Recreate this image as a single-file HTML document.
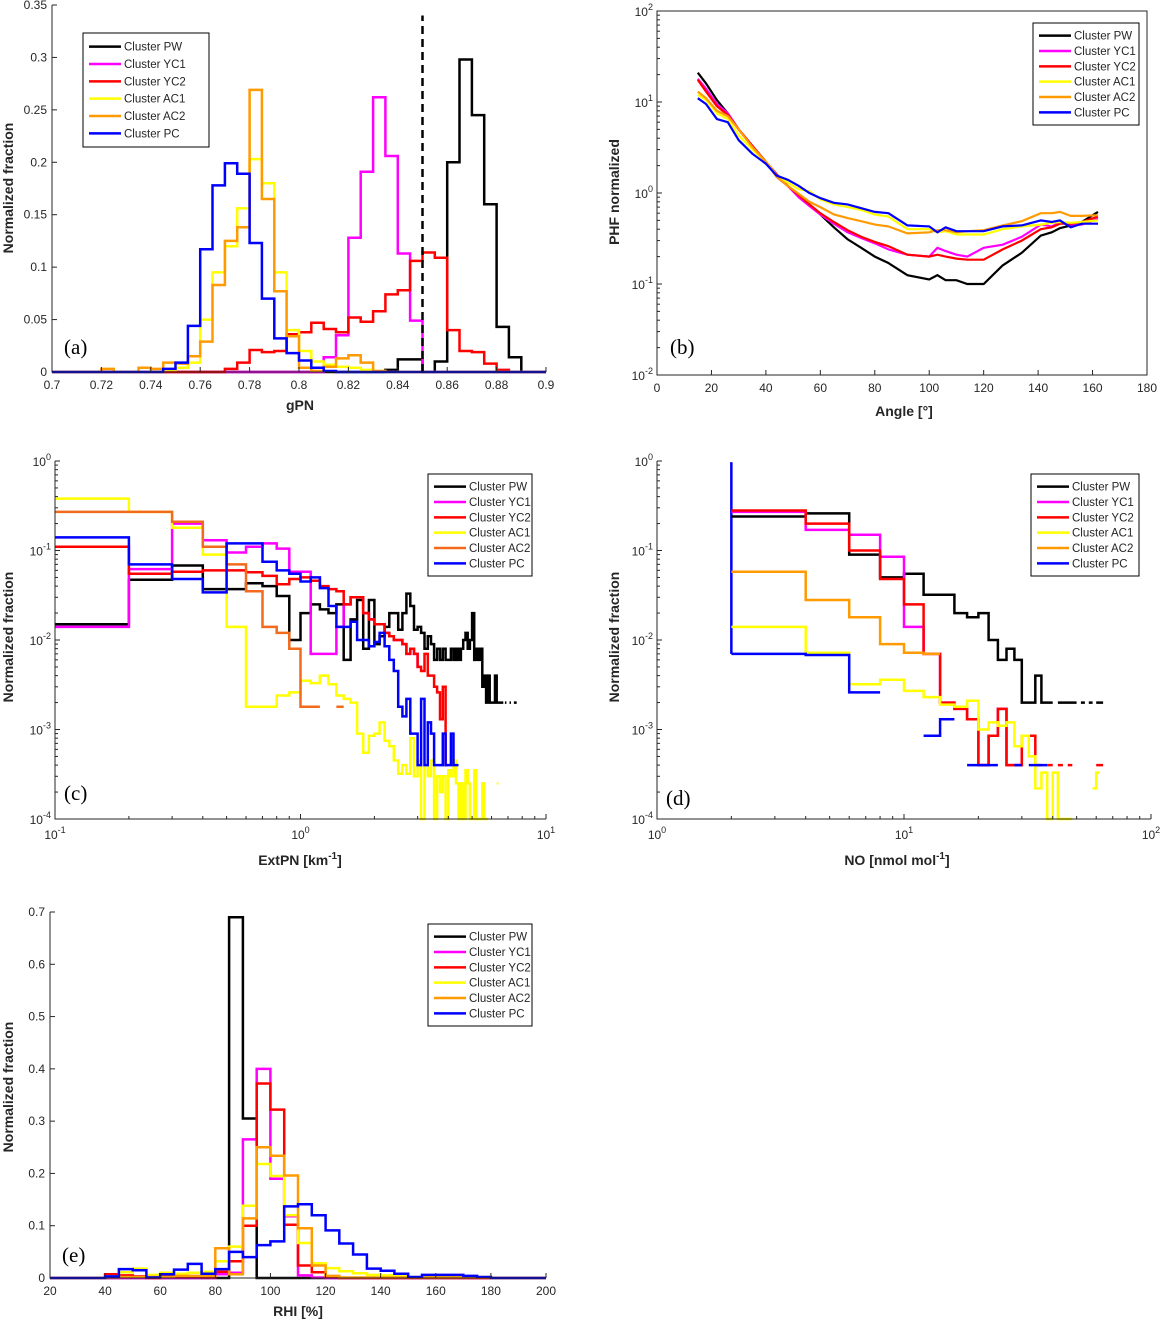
<!DOCTYPE html>
<html><head><meta charset="utf-8"><style>
html,body{margin:0;padding:0;background:#fff;}
svg{display:block;font-family:"Liberation Sans",Arial,sans-serif;}
</style></head><body>
<svg id="fig" xmlns="http://www.w3.org/2000/svg" width="1161" height="1323" viewBox="0 0 1161 1323"></svg>
<script>
// ---------- DATA ----------
const seriesNames = ['Cluster PW','Cluster YC1','Cluster YC2','Cluster AC1','Cluster AC2','Cluster PC'];
const colorsStd = ['#000000','#ff00ff','#ff0000','#ffff00','#ff9a00','#0000ff'];
const colorsC = ['#000000','#ff00ff','#ff0000','#ffff00','#f26a1b','#0000ff'];

// (a) gPN, bins of 0.005 from 0.70 to 0.90
const aPW  = [0,0,0,0,0,0,0,0,0,0,0,0,0,0,0,0,0,0,0,0,0,0,0,0,0,0,0,0.002,0.012,0.012,0,0.01,0.2,0.298,0.245,0.16,0.043,0.014,0,0];
const aYC1 = [0,0,0,0,0,0,0,0,0,0,0,0,0,0,0,0,0,0,0,0,0,0,0.014,0.035,0.128,0.191,0.262,0.206,0.113,0.049,0,0,0,0,0,0,0,0,0,0];
const aYC2 = [0,0,0,0,0,0,0,0,0,0,0,0,0,0,0.003,0.009,0.021,0.019,0.02,0.036,0.038,0.047,0.041,0.038,0.052,0.048,0.058,0.074,0.078,0.106,0.114,0.109,0.04,0.02,0.019,0.008,0.002,0,0,0];
const aAC1 = [0,0,0,0,0,0,0,0,0,0.002,0.004,0.009,0.05,0.095,0.12,0.156,0.203,0.18,0.095,0.04,0.02,0.01,0.007,0.005,0.004,0.002,0.001,0,0,0,0,0,0,0,0,0,0,0,0,0];
const aAC2 = [0,0,0,0,0.003,0,0,0.004,0.003,0.009,0.008,0.015,0.029,0.083,0.125,0.138,0.269,0.165,0.077,0.034,0.004,0.001,0.005,0.013,0.016,0.009,0.001,0,0,0,0,0,0,0,0,0,0,0,0,0];
const aPC  = [0,0,0,0,0,0,0,0,0,0.003,0.009,0.044,0.117,0.178,0.199,0.189,0.123,0.07,0.032,0.018,0.011,0.004,0.001,0,0,0,0,0,0,0,0,0,0,0,0,0,0,0,0,0];
const aThreshold = 0.85;
const aXTicks = [0.7,0.72,0.74,0.76,0.78,0.8,0.82,0.84,0.86,0.88,0.9];
const aXTickLabels = ['0.7','0.72','0.74','0.76','0.78','0.8','0.82','0.84','0.86','0.88','0.9'];
const aYTicks = [0,0.05,0.1,0.15,0.2,0.25,0.3,0.35];
const aYTickLabels = ['0','0.05','0.1','0.15','0.2','0.25','0.3','0.35'];

// (b) phase function
const bAngles = [15,18,22,26,30,35,40,44,48,52,56,60,65,70,75,80,85,92,100,103,106,110,114,120,127,134,141,145,148,152,156,162];
const bPW  = [21,16,10.5,7.5,5,3.3,2.2,1.5,1.2,0.95,0.75,0.58,0.42,0.31,0.25,0.2,0.17,0.125,0.112,0.125,0.11,0.11,0.1,0.1,0.16,0.22,0.34,0.37,0.41,0.44,0.48,0.62];
const bYC1 = [18,14,9.5,7.5,5,3.3,2.2,1.5,1.2,0.9,0.72,0.58,0.46,0.37,0.32,0.28,0.24,0.21,0.2,0.25,0.23,0.21,0.2,0.25,0.27,0.33,0.45,0.43,0.47,0.45,0.45,0.52];
const bYC2 = [17.5,13,9,7.2,5,3.3,2.2,1.6,1.2,0.95,0.75,0.6,0.48,0.39,0.33,0.29,0.26,0.21,0.2,0.21,0.2,0.19,0.185,0.185,0.24,0.3,0.4,0.42,0.46,0.46,0.48,0.55];
const bAC1 = [12,10.5,7.5,6.5,4.3,3,2.2,1.55,1.3,1.1,1.05,0.85,0.75,0.7,0.65,0.58,0.55,0.4,0.4,0.37,0.38,0.35,0.35,0.35,0.4,0.43,0.45,0.47,0.48,0.47,0.48,0.5];
const bAC2 = [13,11,8,7,5,3.2,2.2,1.5,1.2,0.98,0.8,0.7,0.58,0.53,0.49,0.45,0.43,0.36,0.37,0.39,0.39,0.37,0.38,0.39,0.44,0.49,0.6,0.6,0.62,0.56,0.56,0.57];
const bPC  = [11,9.5,6.5,6,3.8,2.7,2.1,1.55,1.4,1.2,1.0,0.88,0.78,0.75,0.68,0.62,0.6,0.44,0.43,0.37,0.42,0.38,0.38,0.38,0.43,0.44,0.5,0.48,0.5,0.42,0.46,0.46];
const bXTicks = [0,20,40,60,80,100,120,140,160,180];
const bYExp = [-2,-1,0,1,2];

// (c) ExtPN, bins of 0.1 from 0.1 to 8.0
const cPW  = [0.015,0.047,0.068,0.037,0.037,0.043,0.04,0.031,0.01,
 0.02,0.025,0.022,0.02,0.025,0.006,0.017,0.028,0.008,0.028,
 0.009,0.011,0.014,0.02,0.02,0.013,0.02,0.033,0.024,0.013,
 0.014,0.012,0.008,0.011,0.009,0.006,0.008,0.006,0.008,0.006,
 0.006,0.008,0.006,0.008,0.006,0.008,0.01,0.012,0.008,0.01,
 0.02,0.006,0.008,0.006,0.008,0.003,0.004,0.002,0.004,0.002,
 0.002,0.002,0.004,0.002,0.002,0.002,0.002,null,0.002,null,
 null,0.002,null,null,0.002,0.002,null,null,null,null];
const cYC1 = [0.014,0.062,0.2,0.13,0.095,0.11,0.12,0.105,0.058,
 0.058,0.007,0.007,0.007,0.014,0.025,0.03,0.03,0.02,0.017,
 0.015,0.015,0.012,0.011,0.01,0.01,0.009,0.007,0.008,0.007,
 0.005,null,null,null,null,null,null,null,null,null,
 null,null,null,null,null,null,null,null,null,null,
 null,null,null,null,null,null,null,null,null,null,
 null,null,null,null,null,null,null,null,null,null,
 null,null,null,null,null,null,null,null,null,null];
const cYC2 = [0.11,0.055,0.058,0.06,0.06,0.057,0.052,0.042,0.048,
 0.05,0.046,0.04,0.037,0.035,0.025,0.03,0.03,0.02,0.017,
 0.015,0.015,0.012,0.011,0.01,0.01,0.009,0.007,0.008,0.007,
 0.005,0.0045,0.007,0.004,0.004,0.003,0.0026,0.0013,0.003,0.0004,
 null,null,null,null,null,null,null,null,null,null,
 null,null,null,null,null,null,null,null,null,null,
 null,null,null,null,null,null,null,null,null,null,
 null,null,null,null,null,null,null,null,null,null];
const cAC1 = [0.38,0.27,0.18,0.09,0.014,0.0018,0.0018,0.0024,0.0026,
 0.0035,0.0033,0.004,0.0032,0.0024,0.0022,0.002,0.0009,0.00055,0.00085,
 0.0009,0.0012,0.00075,0.00065,0.00045,0.00032,0.0004,0.00032,0.0008,0.0003,
 0.00045,0.0001,0.0004,0.0003,0.00045,0.0001,0.0003,0.0002,0.0003,0.0001,
 0.00035,0.0003,0.00045,0.00025,0.0001,0.00025,0.0001,0.00035,0.00025,0.0001,
 0.0001,0.00035,0.0001,0.0001,0.0001,0.00025,0.0001,0.0001,null,null,
 null,null,null,0.00025,null,null,null,null,null,null,
 null,null,null,null,null,null,null,null,null,null];
const cAC2 = [0.27,0.27,0.21,0.11,0.07,0.035,0.014,0.012,0.008,
 0.0018,0.0018,null,null,0.0018,null,null,null,null,null,
 null,null,null,null,null,null,null,null,null,null,
 null,null,null,null,null,null,null,null,null,null,
 null,null,null,null,null,null,null,null,null,null,
 null,null,null,null,null,null,null,null,null,null,
 null,null,null,null,null,null,null,null,null,null,
 null,null,null,null,null,null,null,null,null,null];
const cPC  = [0.14,0.07,0.048,0.034,0.12,0.12,0.075,0.06,0.055,
 0.045,0.05,0.038,0.024,0.014,0.014,0.016,0.01,0.01,0.0085,
 0.0095,0.012,0.0085,0.006,0.0045,0.0018,0.0014,0.0022,0.0009,0.0009,
 0.0004,0.0022,0.0004,0.0012,0.0009,0.0004,0.0004,0.0004,0.0009,0.0004,
 0.0004,0.0009,0.0004,0.0004,null,null,null,null,null,null,
 null,null,null,null,null,null,null,null,null,null,
 null,null,null,null,null,null,null,null,null,null,
 null,null,null,null,null,null,null,null,null,null];
const cXExp = [-1,0,1];
const cYExp = [-4,-3,-2,-1,0];

// (d) NO, bins of 2 from 2 to 64
const dPW  = [0.24,0.26,0.09,0.05,0.055,0.032,0.032,0.02,0.018,0.02,0.01,0.006,0.008,0.006,0.002,0.002,0.004,0.002,0.002,null,0.002,0.002,0.002,0.002,null,0.002,null,0.002,null,0.002,0.002];
const dYC1 = [0.27,0.17,0.15,0.085,0.014,0.007,0.002,0.0017,0.0013,0.0004,0.00085,0.0017,0.0004,0.0004,0.00085,0.00085,null,null,null,null,null,null,null,null,null,null,null,null,null,null,null];
const dYC2 = [0.28,0.2,0.1,0.048,0.025,0.007,0.002,0.0017,0.0013,0.0004,0.00085,0.0017,0.0004,0.0004,0.00085,0.00085,0.0004,null,0.0004,null,0.0004,null,0.0004,null,null,null,null,null,null,0.0004,0.0004];
const dAC1 = [0.014,0.0072,0.0032,0.0036,0.0027,0.0023,0.0019,0.0018,0.0021,0.001,0.0012,0.0011,0.0012,0.00065,0.00085,0.0005,0.00022,0.00033,0.0001,0.00033,0.0001,0.0001,0.0001,null,null,null,null,null,0.00022,0.00033,null];
const dAC2 = [0.058,0.028,0.018,0.009,0.0072,0.007,null,null,null,null,null,null,null,null,null,null,null,null,null,null,null,null,null,null,null,null,null,null,null,null,null];
const dPC  = [0.007,0.0068,0.0026,null,null,0.00085,0.0013,null,0.0004,0.0004,0.0004,null,null,0.0004,null,0.0004,0.0004,0.0004,null,null,null,null,null,null,null,null,null,null,null,null,null];
const dPCLead = 0.97;
const dXExp = [0,1,2];
const dYExp = [-4,-3,-2,-1,0];

// (e) RHI, bins of 5 from 20 to 200
const ePW  = [0,0,0,0,0,0,0,0,0,0,0,0,0,0.69,0.305,0,0,0,0,0,0,0,0,0,0,0,0,0,0,0,0,0,0,0,0,0];
const eYC1 = [0,0,0,0,0,0,0,0,0,0,0,0,0.007,0.01,0.265,0.4,0.19,0.118,0.005,0.001,0,0,0,0,0,0,0,0,0,0,0,0,0,0,0,0];
const eYC2 = [0,0,0,0,0.007,0.005,0.003,0,0.003,0.002,0.003,0.001,0.012,0.032,0.1,0.372,0.322,0.102,0.024,0.011,0.003,0,0,0,0,0,0,0,0,0,0,0,0,0,0,0];
const eAC1 = [0,0,0,0,0.003,0.011,0.018,0.006,0.01,0.008,0.01,0.012,0.032,0.06,0.138,0.218,0.195,0.12,0.067,0.028,0.019,0.013,0.009,0.006,0.005,0.003,0.002,0.002,0.002,0.002,0.002,0.002,0,0,0,0];
const eAC2 = [0,0,0,0,0.001,0.002,0.002,0.002,0.002,0.004,0.004,0.004,0.057,0.007,0.114,0.25,0.234,0.196,0.095,0.024,0.004,0.001,0.001,0.001,0.001,0.001,0.001,0.001,0.001,0.001,0.001,0.001,0,0,0,0];
const ePC  = [0,0,0,0,0.003,0.017,0.015,0.001,0.007,0.016,0.027,0.008,0.017,0.05,0.04,0.063,0.07,0.137,0.141,0.12,0.091,0.066,0.045,0.018,0.014,0.008,0.002,0.006,0.006,0.006,0.004,0.002,0,0,0,0];
const eXTicks = [20,40,60,80,100,120,140,160,180,200];
const eYTicks = [0,0.1,0.2,0.3,0.4,0.5,0.6,0.7];

// ---------- DRAWING ----------
const NS='http://www.w3.org/2000/svg';
const svg=document.getElementById('fig');
function mk(tag,attrs,parent){const e=document.createElementNS(NS,tag);for(const k in attrs)e.setAttribute(k,attrs[k]);(parent||svg).appendChild(e);return e;}
function linS(d0,d1,p0,p1){return v=>p0+(v-d0)/(d1-d0)*(p1-p0);}
function logS(d0,d1,p0,p1){return v=>p0+(Math.log10(v)-Math.log10(d0))/(Math.log10(d1)-Math.log10(d0))*(p1-p0);}
const TICKC='#262626';

function expLabel(g,x,y,exp,anchor){
  const t=mk('text',{x:x,y:y,'font-size':12,fill:TICKC,'text-anchor':anchor},g);
  
  
  const a=mk('tspan',{},t);a.textContent='10';
  const b=mk('tspan',{dy:-6,'font-size':9},t);b.textContent=String(exp);
  return t;
}
function axesFrame(g,P,box){
  const ax=mk('path',{d:`M${P.l},${P.t}L${P.l},${P.b}L${P.r},${P.b}`+(box?`L${P.r},${P.t}Z`:''),fill:'none',stroke:TICKC,'stroke-width':1},g);
  
  
}
function linXTicks(g,P,sx,ticks,labels){
  ticks.forEach((v,i)=>{const x=sx(v);
    mk('line',{x1:x,x2:x,y1:P.b,y2:P.b-5,stroke:TICKC},g);
    const t=mk('text',{x:x,y:P.b+17,'font-size':12,fill:TICKC,'text-anchor':'middle'},g);
    
    
    t.textContent=labels?labels[i]:String(v);});
}
function linYTicks(g,P,sy,ticks,labels){
  ticks.forEach((v,i)=>{const y=sy(v);
    mk('line',{x1:P.l,x2:P.l+5,y1:y,y2:y,stroke:TICKC},g);
    const t=mk('text',{x:P.l-5,y:y+4,'font-size':12,fill:TICKC,'text-anchor':'end'},g);
    
    
    t.textContent=labels?labels[i]:String(v);});
}
function logXTicks(g,P,sx,exps){
  for(let k=0;k<exps.length;k++){const e=exps[k];const x=sx(Math.pow(10,e));
    mk('line',{x1:x,x2:x,y1:P.b,y2:P.b-5,stroke:TICKC},g);
    expLabel(g,x,P.b+20,e,'middle');
    if(k<exps.length-1)for(let m=2;m<10;m++){const xm=sx(m*Math.pow(10,e));mk('line',{x1:xm,x2:xm,y1:P.b,y2:P.b-3,stroke:TICKC},g);}}
}
function logYTicks(g,P,sy,exps){
  for(let k=0;k<exps.length;k++){const e=exps[k];const y=sy(Math.pow(10,e));
    mk('line',{x1:P.l,x2:P.l+5,y1:y,y2:y,stroke:TICKC},g);
    expLabel(g,P.l-4,y+5,e,'end');
    if(k<exps.length-1)for(let m=2;m<10;m++){const ym=sy(m*Math.pow(10,e));mk('line',{x1:P.l,x2:P.l+3,y1:ym,y2:ym,stroke:TICKC},g);}}
}
function stairs(g,edges,vals,sx,sy,isLog,color,name){
  let d='',open=false;
  for(let i=0;i<vals.length;i++){const v=vals[i];
    if(v==null||(isLog&&v<=0)){open=false;continue;}
    const x0=sx(edges[i]),x1=sx(edges[i+1]),y=sy(v);
    d+=(open?'L':'M')+x0.toFixed(1)+','+y.toFixed(1)+'L'+x1.toFixed(1)+','+y.toFixed(1);open=true;}
  const p=mk('path',{d:d,fill:'none',stroke:color,'stroke-width':2.5,'stroke-linejoin':'miter'},g);
  
  
  return p;
}
function legend(g,x,y,w,h,colors){
  const r=mk('rect',{x:x,y:y,width:w,height:h,fill:'#fff',stroke:'#000','stroke-width':1},g);
  
  
  const step=(h-10)/6;
  seriesNames.forEach((n,i)=>{const yy=y+5+step*(i+0.5);
    const l=mk('line',{x1:x+6,x2:x+38,y1:yy,y2:yy,stroke:colors[i],'stroke-width':2.5},g);
    
    
    const t=mk('text',{x:x+41,y:yy+4,'font-size':11.5,fill:'#262626'},g);
    
    
    t.textContent=n;});
}
function titles(g,xt,xx,xy,yt,yx,yy,sup){
  const a=mk('text',{x:xx,y:xy,'font-size':14,'font-weight':'bold','text-anchor':'middle',fill:'#262626'},g);
  
  
  a.textContent=xt;
  if(sup){const s=mk('tspan',{dy:-6,'font-size':10},a);s.textContent=sup[0];const s2=mk('tspan',{dy:6},a);s2.textContent=sup[1];}
  const b=mk('text',{x:yx,y:yy,'font-size':14,'font-weight':'bold','text-anchor':'middle',fill:'#262626',transform:`rotate(-90 ${yx} ${yy})`},g);
  
  
  b.textContent=yt;
}
function panelLetter(g,x,y,s){
  const t=mk('text',{x:x,y:y,'font-size':21,'font-family':'"Liberation Serif",serif',fill:'#000'},g);
  
  
  t.textContent=s;
}
function group(name){const g=mk('g',{});return g;}

// ---- Panel (a)
(function(){
  const g=group('panel-a-gpn');
  const P={l:52,r:546,t:5,b:372};
  const sx=linS(0.7,0.9,P.l,P.r), sy=linS(0,0.35,P.b,P.t);
  const edges=aPW.map((_,i)=>0.7+0.005*i).concat([0.9]);
  [aPW,aYC1,aYC2,aAC1,aAC2,aPC].forEach((s,i)=>stairs(g,edges,s,sx,sy,false,colorsStd[i],'hist-a-'+seriesNames[i].split(' ')[1].toLowerCase()));
  const dl=mk('line',{x1:sx(aThreshold),x2:sx(aThreshold),y1:sy(0),y2:sy(0.34),stroke:'#000','stroke-width':2.5,'stroke-dasharray':'8,5'},g);
  
  
  axesFrame(g,P,false);
  linXTicks(g,P,sx,aXTicks,aXTickLabels);
  linYTicks(g,P,sy,aYTicks,aYTickLabels);
  legend(g,83,33,126,114,colorsStd);
  titles(g,'gPN',300,410,'Normalized fraction',13,188);
  panelLetter(g,64,354,'(a)');
})();

// ---- Panel (b)
(function(){
  const g=group('panel-b-phf');
  const P={l:657,r:1147,t:11,b:375};
  const sx=linS(0,180,P.l,P.r), sy=logS(0.01,100,P.b,P.t);
  [bPW,bYC1,bYC2,bAC1,bAC2,bPC].forEach((s,i)=>{
    const pts=bAngles.map((a,j)=>sx(a).toFixed(1)+','+sy(s[j]).toFixed(1)).join(' ');
    const pl=mk('polyline',{points:pts,fill:'none',stroke:colorsStd[i],'stroke-width':2.2},g);
    
    
  });
  axesFrame(g,P,true);
  linXTicks(g,P,sx,bXTicks);
  logYTicks(g,P,sy,bYExp);
  legend(g,1033,23,106,102,colorsStd);
  titles(g,'Angle [°]',904,416,'PHF normalized',619,192);
  panelLetter(g,670,354,'(b)');
})();

// ---- Panel (c)
(function(){
  const g=group('panel-c-extpn');
  const P={l:55,r:546,t:461,b:819};
  const sx=logS(0.1,10,P.l,P.r), sy=logS(1e-4,1,P.b,P.t);
  const edges=Array.from({length:80},(_,i)=>+(0.1+0.1*i).toFixed(1));
  [cPW,cYC1,cYC2,cAC1,cAC2,cPC].forEach((s,i)=>stairs(g,edges,s,sx,sy,true,colorsC[i],'hist-c-'+seriesNames[i].split(' ')[1].toLowerCase()));
  axesFrame(g,P,false);
  logXTicks(g,P,sx,cXExp);
  logYTicks(g,P,sy,cYExp);
  legend(g,428,474,104,102,colorsC);
  titles(g,'ExtPN [km',300,865,'Normalized fraction',13,637,['-1',']']);
  panelLetter(g,64,800,'(c)');
})();

// ---- Panel (d)
(function(){
  const g=group('panel-d-no');
  const P={l:657,r:1151,t:461,b:819};
  const sx=logS(1,100,P.l,P.r), sy=logS(1e-4,1,P.b,P.t);
  const edges=Array.from({length:32},(_,i)=>2+2*i);
  const lead=mk('line',{x1:sx(2),x2:sx(2),y1:sy(dPCLead),y2:sy(dPC[0]),stroke:colorsStd[5],'stroke-width':2.5},g);
  
  
  [dPW,dYC1,dYC2,dAC1,dAC2,dPC].forEach((s,i)=>stairs(g,edges,s,sx,sy,true,colorsStd[i],'hist-d-'+seriesNames[i].split(' ')[1].toLowerCase()));
  axesFrame(g,P,false);
  logXTicks(g,P,sx,dXExp);
  logYTicks(g,P,sy,dYExp);
  legend(g,1031,474,108,102,colorsStd);
  titles(g,'NO [nmol mol',897,865,'Normalized fraction',619,637,['-1',']']);
  panelLetter(g,666,805,'(d)');
})();

// ---- Panel (e)
(function(){
  const g=group('panel-e-rhi');
  const P={l:50,r:546,t:905,b:1278};
  const sx=linS(20,200,P.l,P.r), sy=linS(0,0.7,P.b,912);
  const edges=ePW.map((_,i)=>20+5*i).concat([200]);
  [ePW,eYC1,eYC2,eAC1,eAC2,ePC].forEach((s,i)=>stairs(g,edges,s,sx,sy,false,colorsStd[i],'hist-e-'+seriesNames[i].split(' ')[1].toLowerCase()));
  const ax=mk('path',{d:`M${P.l},${sy(0.7)}L${P.l},${P.b}L${P.r},${P.b}`,fill:'none',stroke:TICKC},g);
  
  
  linXTicks(g,P,sx,eXTicks);
  linYTicks(g,P,sy,eYTicks);
  legend(g,428,924,104,102,colorsStd);
  titles(g,'RHI [%]',298,1316,'Normalized fraction',13,1087);
  panelLetter(g,62,1262,'(e)');
})();
</script>
</body></html>
